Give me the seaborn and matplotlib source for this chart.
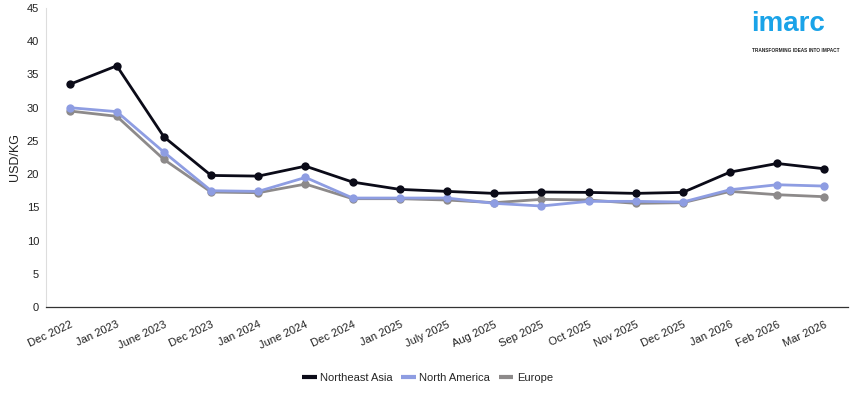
import matplotlib
matplotlib.use("Agg")
import matplotlib.pyplot as plt
import seaborn as sns
import pandas as pd
from matplotlib.lines import Line2D

months = ["Dec 2022", "Jan 2023", "June 2023", "Dec 2023", "Jan 2024", "June 2024",
          "Dec 2024", "Jan 2025", "July 2025", "Aug 2025", "Sep 2025", "Oct 2025",
          "Nov 2025", "Dec 2025", "Jan 2026", "Feb 2026", "Mar 2026"]
northeast_asia = [33.5, 36.3, 25.6, 19.8, 19.7, 21.2, 18.8, 17.7, 17.4, 17.1, 17.3, 17.25,
                  17.1, 17.25, 20.3, 21.6, 20.8]
north_america = [30.0, 29.4, 23.3, 17.5, 17.4, 19.5, 16.4, 16.4, 16.4, 15.6, 15.2, 15.9,
                 15.9, 15.8, 17.65, 18.4, 18.2]
europe = [29.5, 28.7, 22.2, 17.3, 17.2, 18.5, 16.3, 16.3, 16.1, 15.7, 16.2, 16.1,
          15.6, 15.7, 17.4, 16.9, 16.6]
series_names = ["Northeast Asia", "North America", "Europe"]
colors = ["#0b0b18", "#8e9de2", "#8d8a8a"]
yticks = [0, 5, 10, 15, 20, 25, 30, 35, 40, 45]

rows = []
for name, vals in zip(series_names, [northeast_asia, north_america, europe]):
    for i, (m, v) in enumerate(zip(months, vals)):
        rows.append({"idx": i, "month": m, "value": v, "series": name})
df = pd.DataFrame(rows)

sns.set_style("white")
plt.rcParams["font.family"] = ["Liberation Sans", "DejaVu Sans"]

fig = plt.figure(figsize=(8.55, 3.93), dpi=100)
ax = fig.add_axes([46/855, 86/393, (848-46)/855, (307-8)/393])

order_draw = ["Europe", "North America", "Northeast Asia"]
pal = dict(zip(series_names, colors))
for name in order_draw:
    sub = df[df["series"] == name]
    sns.lineplot(data=sub, x="idx", y="value", ax=ax, color=pal[name], linewidth=2.0,
                 marker="o", markersize=6, markeredgewidth=0, legend=False)

ax.set_xlim(-0.5, len(months) - 0.5)
ax.set_ylim(0, 45)
ax.set_yticks(yticks)
ax.set_yticklabels([str(t) for t in yticks], fontsize=8, color="#222222")
ax.set_xticks(range(len(months)))
ax.set_xticklabels(months, rotation=25, ha="right", rotation_mode="anchor",
                   fontsize=8, color="#222222")
ax.tick_params(axis="x", length=5, width=0.9, color="#333333", pad=4)
ax.tick_params(axis="y", length=0, pad=5)
ax.set_xlabel("")
ax.set_ylabel("USD/KG", fontsize=9, color="#222222", labelpad=4)

for s in ["top", "right"]:
    ax.spines[s].set_visible(False)
ax.spines["left"].set_color("#dddddd")
ax.spines["left"].set_linewidth(0.8)
ax.spines["bottom"].set_color("#333333")
ax.spines["bottom"].set_linewidth(0.9)

handles = [Line2D([0], [0], color=c, linewidth=3, solid_capstyle="butt") for c in colors]
fig.legend(handles, series_names, loc="center", bbox_to_anchor=(0.5, 15/393),
           ncol=3, frameon=False, fontsize=8, handlelength=1.3, handletextpad=0.3,
           columnspacing=0.8)

# logo
fig.text(0.878, 0.94, "imarc", color="#1aa3e8", fontsize=20, fontweight="bold",
         ha="left", va="center")
fig.text(0.880, 0.872, "TRANSFORMING IDEAS INTO IMPACT", color="#222222", fontsize=3.4,
         fontweight="bold", ha="left", va="center")

fig.savefig("out.png", dpi=100)
